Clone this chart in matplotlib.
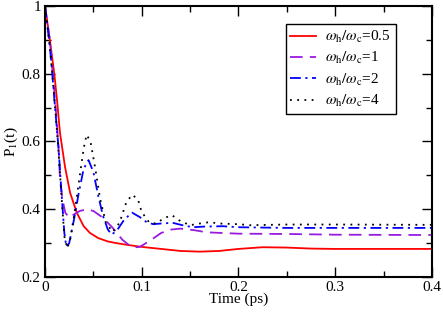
import matplotlib
matplotlib.use("Agg")
import matplotlib.pyplot as plt
from matplotlib.ticker import MultipleLocator, FuncFormatter

plt.rcParams['font.family'] = ['Liberation Serif', 'DejaVu Serif']
plt.rcParams['mathtext.fontset'] = 'stix'

# values
t_r = [0, 0.005, 0.0096, 0.0125, 0.0155, 0.0207, 0.026, 0.033, 0.04, 0.0465, 0.055, 0.065,
       0.074, 0.085, 0.1, 0.12, 0.14, 0.16, 0.18, 0.2, 0.225, 0.25, 0.275, 0.3, 0.35, 0.4]
p_r = [1, 0.9, 0.8, 0.72, 0.625, 0.525, 0.448, 0.389, 0.35, 0.33, 0.315, 0.305,
       0.30, 0.295, 0.289, 0.283, 0.277, 0.275, 0.277, 0.283, 0.288, 0.287, 0.284, 0.283, 0.283, 0.283]

t_p = [0, 0.005, 0.008, 0.011, 0.014, 0.0155, 0.018, 0.021, 0.025, 0.03, 0.036, 0.043, 0.05,
       0.06, 0.07, 0.08, 0.09, 0.098, 0.11, 0.12, 0.13, 0.14, 0.155, 0.167, 0.2, 0.253, 0.3, 0.4]
p_p = [1, 0.9, 0.8, 0.7, 0.58, 0.49, 0.43, 0.39, 0.375, 0.385, 0.395, 0.40, 0.395,
       0.375, 0.345, 0.31, 0.287, 0.289, 0.31, 0.33, 0.34, 0.343, 0.338, 0.332, 0.328, 0.327, 0.325, 0.324]

t_b = [0, 0.005, 0.0075, 0.011, 0.014, 0.017, 0.02, 0.022, 0.025, 0.03, 0.035, 0.04, 0.045,
       0.05, 0.055, 0.06, 0.065, 0.069, 0.075, 0.082, 0.09, 0.098, 0.105, 0.112, 0.12, 0.132,
       0.142, 0.153, 0.165, 0.184, 0.2, 0.25, 0.3, 0.4]
p_b = [1, 0.88, 0.8, 0.68, 0.58, 0.45, 0.33, 0.29, 0.30, 0.37, 0.45, 0.52, 0.545,
       0.51, 0.44, 0.38, 0.34, 0.325, 0.34, 0.37, 0.39, 0.377, 0.362, 0.356, 0.358, 0.36,
       0.353, 0.347, 0.349, 0.35, 0.347, 0.345, 0.345, 0.345]

t_k = [0, 0.005, 0.0075, 0.011, 0.014, 0.017, 0.02, 0.023, 0.026, 0.03, 0.035, 0.04, 0.043,
       0.047, 0.052, 0.057, 0.063, 0.07, 0.077, 0.084, 0.09, 0.096, 0.1, 0.108, 0.115, 0.122,
       0.131, 0.14, 0.15, 0.16, 0.17, 0.18, 0.2, 0.212, 0.25, 0.3, 0.4]
p_k = [1, 0.88, 0.8, 0.68, 0.57, 0.44, 0.32, 0.285, 0.31, 0.38, 0.48, 0.58, 0.62,
       0.60, 0.52, 0.43, 0.36, 0.333, 0.36, 0.42, 0.443, 0.43, 0.392, 0.36, 0.358, 0.372,
       0.383, 0.365, 0.353, 0.358, 0.362, 0.358, 0.356, 0.353, 0.355, 0.355, 0.354]

labels = [r'$\omega_\mathrm{h}/\omega_\mathrm{c}$=0.5', r'$\omega_\mathrm{h}/\omega_\mathrm{c}$=1',
          r'$\omega_\mathrm{h}/\omega_\mathrm{c}$=2', r'$\omega_\mathrm{h}/\omega_\mathrm{c}$=4']

fig = plt.figure(figsize=(4.43, 3.12), dpi=100)
ax = fig.add_axes([0.1016, 0.112, 0.8734, 0.869])

ax.plot(t_r, p_r, '-', color='#ff0000', lw=1.3, label=labels[0])
ax.plot(t_p, p_p, color='#9a1be0', lw=1.3, dashes=(7, 4), label=labels[1])
ax.plot(t_b, p_b, color='#0000ff', lw=1.3, dashes=(6, 2.5, 1.2, 2.5), label=labels[2])
ax.plot(t_k, p_k, color='black', lw=1.3, dashes=(1, 3), label=labels[3])

ax.set_xlim(0, 0.4)
ax.set_ylim(0.2, 1)
ax.xaxis.set_major_locator(MultipleLocator(0.1))
ax.xaxis.set_minor_locator(MultipleLocator(0.05))
ax.yaxis.set_major_locator(MultipleLocator(0.2))
ax.yaxis.set_minor_locator(MultipleLocator(0.1))
fmt = FuncFormatter(lambda v, pos: ('%g' % round(v, 3)))
ax.xaxis.set_major_formatter(fmt)
ax.yaxis.set_major_formatter(fmt)
ax.tick_params(which='both', direction='in', top=True, right=True, labelsize=11, width=1, pad=3)
ax.tick_params(which='major', length=7)
ax.tick_params(which='minor', length=4)
for s in ax.spines.values():
    s.set_linewidth(1.5)

ax.set_xlabel('Time (ps)', fontsize=11, labelpad=-1)
ax.set_ylabel(r'P$_1$(t)', fontsize=11, labelpad=1)

leg = ax.legend(loc='upper right', bbox_to_anchor=(0.906, 0.932), fontsize=11,
                fancybox=False, framealpha=1, edgecolor='black', handlelength=1.7,
                borderpad=0.3, labelspacing=0.35, handletextpad=0.6, borderaxespad=0)
leg.get_frame().set_linewidth(1)

fig.savefig('out.png', dpi=100)
